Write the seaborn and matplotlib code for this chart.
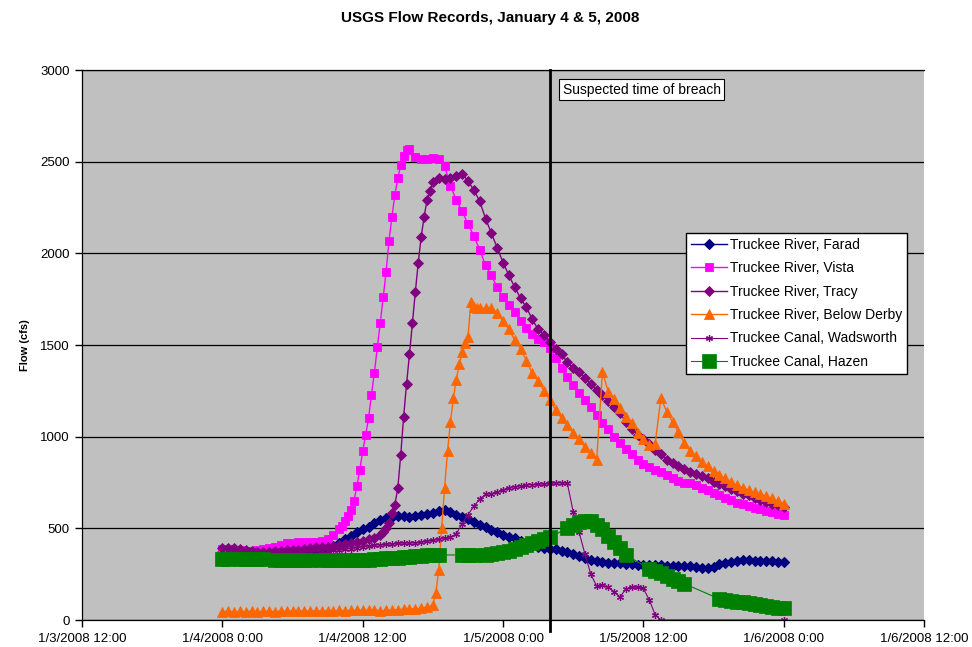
import numpy as np
import matplotlib.pyplot as plt
import seaborn as sns

# hours after 1/4/2008 0:00
x_ticks = [-12, 0, 12, 24, 36, 48, 60]
x_tick_labels = ["1/3/2008 12:00", "1/4/2008 0:00", "1/4/2008 12:00", "1/5/2008 0:00",
                 "1/5/2008 12:00", "1/6/2008 0:00", "1/6/2008 12:00"]
breach_hour = 28

half_hours = np.arange(0, 48.5, 0.5)

farad_flow = [372, 370, 368, 366, 364, 362, 360, 360,
              360, 362, 365, 367, 368, 370, 372, 375,
              380, 385, 395, 405, 420, 440, 458, 478,
              495, 510, 530, 545, 555, 560, 565, 565,
              563, 565, 575, 580, 585, 595, 600, 590,
              575, 560, 550, 535, 520, 505, 490, 478,
              465, 455, 445, 432, 420, 408, 398, 392,
              390, 388, 375, 370, 360, 350, 340, 330,
              320, 315, 312, 310, 310, 308, 305, 302,
              300, 300, 300, 298, 296, 295, 295, 294,
              293, 290, 286, 283, 290, 305, 312, 318,
              322, 326, 325, 323, 322, 320, 320, 318,
              316]

vista_hours = np.concatenate([np.arange(0, 10, 0.5), np.arange(10, 16.25, 0.25),
                              np.arange(16.5, 48.5, 0.5)])
vista_flow = [385, 385, 383, 380, 378, 378, 380, 385, 392, 400,
              410, 418, 422, 425, 425, 426, 428, 432, 440, 465,
              495, 515, 540, 570, 600, 650, 730, 820, 920, 1010,
              1100, 1230, 1350, 1490, 1620, 1760, 1900, 2070, 2200, 2320,
              2410, 2480, 2530, 2565, 2569,
              2525, 2515, 2515, 2518, 2515, 2475, 2370, 2290,
              2230, 2160, 2095, 2020, 1935, 1880, 1815, 1760,
              1720, 1680, 1630, 1595, 1560, 1535, 1515, 1485,
              1430, 1375, 1325, 1280, 1240, 1200, 1160, 1120,
              1075, 1040, 1000, 965, 935, 905, 875, 850,
              835, 820, 805, 790, 775, 760, 750, 745,
              735, 720, 707, 695, 680, 668, 655, 640,
              632, 622, 612, 605, 595, 588, 580, 575]

tracy_hours = np.concatenate([np.arange(0, 13.5, 0.5), np.arange(13.5, 18, 0.25),
                              np.arange(18, 48.5, 0.5)])
tracy_flow = [395, 395, 392, 388, 382, 376, 372, 370, 372, 375,
              378, 380, 382, 384, 388, 392, 396, 398, 398, 402,
              408, 414, 420, 426, 432, 440, 447,
              462, 478, 500, 530, 583, 630, 720, 900, 1110, 1290,
              1450, 1620, 1790, 1950, 2090, 2200, 2290, 2340,
              2390, 2410, 2405, 2412, 2420, 2435, 2395, 2345, 2285, 2190,
              2110, 2030, 1950, 1880, 1815, 1755, 1705, 1640, 1585, 1555,
              1516, 1480, 1450, 1405, 1375, 1355, 1320, 1290, 1255, 1225,
              1195, 1160, 1129, 1080, 1040, 1010, 985, 958, 930, 905,
              875, 855, 838, 822, 807, 795, 783, 772, 755, 743,
              733, 716, 702, 690, 680, 668, 656, 645, 635, 625,
              615]

derby_hours = np.concatenate([np.arange(0, 18, 0.5), np.arange(18, 22, 0.25),
                              np.arange(22, 48.5, 0.5)])
derby_flow = [45, 48, 45, 47, 46, 48, 45, 47,
              48, 46, 48, 47, 49, 48, 50, 48,
              50, 49, 51, 50, 52, 50, 53, 52,
              55, 53, 56, 50, 52, 55, 57, 58,
              62, 60, 65, 70,
              80, 147, 273, 502, 720, 920, 1080, 1210,
              1310, 1395, 1460, 1510, 1544, 1735, 1710, 1702,
              1702, 1700, 1700, 1675, 1630, 1585, 1527, 1480,
              1415, 1345, 1305, 1250, 1200, 1145, 1100, 1065,
              1020, 985, 944, 910, 873, 1353, 1244, 1205,
              1156, 1107, 1075, 1020, 990, 955, 960, 1211,
              1135, 1080, 1025, 965, 920, 895, 862, 838,
              815, 792, 772, 752, 735, 720, 708, 697,
              686, 675, 663, 650, 635]

wadsworth_hours = np.concatenate([np.arange(0, 38, 0.5), [48]])
wadsworth_flow = [395, 392, 390, 388, 385, 380, 375, 372,
                  370, 370, 372, 374, 376, 378, 380, 380,
                  380, 378, 378, 380, 382, 385, 390, 395,
                  400, 405, 408, 410, 412, 415, 418, 420,
                  420, 420, 425, 430, 436, 442, 448, 452,
                  470, 525, 575, 620, 660, 685, 690, 698,
                  710, 722, 728, 732, 736, 738, 740, 742,
                  745, 747, 748, 745, 590, 480, 360, 250,
                  185, 190, 178, 155, 125, 170, 180, 178,
                  172, 110, 30, 0,
                  0]

hazen_hours = np.concatenate([np.arange(0, 1, 0.5), np.arange(1.5, 4, 0.5), np.arange(4.5, 8, 0.5),
                              np.arange(8.5, 19, 0.5), np.arange(20.5, 22, 0.5), np.arange(22.5, 28.5, 0.5),
                              np.arange(29.5, 35, 0.5), np.arange(36.5, 40, 0.5), np.arange(42.5, 48.5, 0.5)])
hazen_flow = [335, 335,
              335, 333, 333, 332, 332,
              330, 330, 330, 330, 330, 330, 330,
              328, 328, 328, 328, 328, 328, 328, 330, 330, 332, 334,
              336, 338, 340, 342, 345, 348, 350, 352, 354, 355,
              355, 355, 355,
              355, 358, 363, 370, 378, 390, 400, 408, 420, 430, 440, 452,
              500, 520, 532, 540, 538, 520, 495, 460, 425, 395, 355,
              280, 268, 255, 240, 225, 212, 198,
              115, 110, 105, 100, 97, 93, 88, 83, 78, 73, 68, 63]

plt.rcParams['font.family'] = ['Liberation Sans', 'DejaVu Sans']

fig = plt.figure(figsize=(9.72, 6.47), dpi=100)
ax = fig.add_axes([0.0844, 0.0417, 0.8663, 0.8501])
ax.set_facecolor('#C0C0C0')

# name, x, y, color, marker, size, line width, edge width
series = [
    ("Truckee River, Farad", half_hours, farad_flow, '#000080', 'D', 5, 1.0, 0.8),
    ("Truckee River, Vista", vista_hours, vista_flow, '#FF00FF', 's', 5.5, 1.0, 0.6),
    ("Truckee River, Tracy", tracy_hours, tracy_flow, '#800080', 'D', 5.5, 1.0, 0.6),
    ("Truckee River, Below Derby", derby_hours, derby_flow, '#FF6600', '^', 7, 1.0, 0.6),
    ("Truckee Canal, Wadsworth", wadsworth_hours, wadsworth_flow, '#800080', (6, 2, 0), 5, 0.8, 0.9),
    ("Truckee Canal, Hazen", hazen_hours, hazen_flow, '#008000', 's', 9.5, 0.8, 0.5),
]

for name, hrs, flow, color, marker, ms, lw, mew in series:
    sns.lineplot(x=hrs, y=flow, ax=ax, color=color, marker=marker, markersize=ms,
                 markeredgecolor=color, markeredgewidth=mew, linewidth=lw,
                 label=name, estimator=None, sort=False)

ax.set_xlim(-12, 60)
ax.set_ylim(0, 3000)
ax.set_xticks(x_ticks)
ax.set_xticklabels(x_tick_labels)
ax.set_yticks(range(0, 3001, 500))
ax.yaxis.grid(True, color='black', linewidth=0.9)
ax.xaxis.grid(False)
ax.set_axisbelow(True)
ax.tick_params(direction='out', length=5, width=1, labelsize=9.5, colors='black', pad=4)
for side in ['left', 'bottom', 'top']:
    ax.spines[side].set_color('black')
    ax.spines[side].set_linewidth(0.9)
ax.spines['right'].set_visible(False)
ax.set_xlabel('')
ax.set_ylabel('')

ax.axvline(breach_hour, ymin=-0.02, ymax=1, color='black', linewidth=2, zorder=6, clip_on=False)
ax.text(breach_hour + 1.1, 2930, "Suspected time of breach", fontsize=10, ha='left', va='top', zorder=7,
        bbox=dict(boxstyle='square,pad=0.25', fc='white', ec='black', lw=0.8))

ax.legend(loc='upper left', bbox_to_anchor=(0.717, 0.704), frameon=True, fancybox=False,
          edgecolor='black', framealpha=1, fontsize=10, handlelength=2.6, handletextpad=0.2,
          borderpad=0.35, labelspacing=0.68, borderaxespad=0)

fig.text(0.504, 0.972, "USGS Flow Records, January 4 & 5, 2008", ha='center', va='center',
         fontsize=11, fontweight='bold')
fig.text(25 / 972, 0.467, "Flow (cfs)", rotation=90, ha='center', va='center',
         fontsize=8, fontweight='bold')

fig.savefig('out.png', dpi=100)
